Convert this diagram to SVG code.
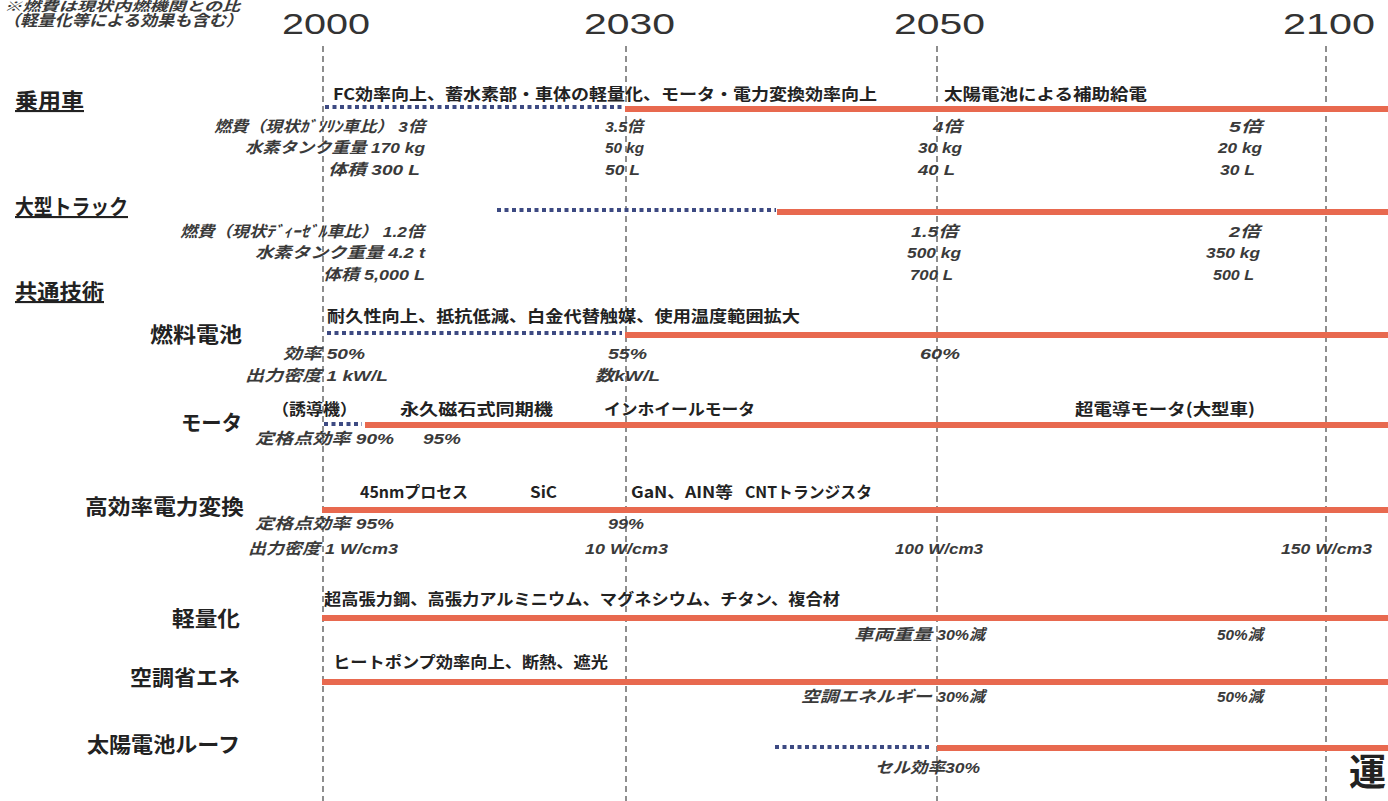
<svg xmlns="http://www.w3.org/2000/svg" width="1388" height="801" viewBox="0 0 1388 801">
<style>
.yr{font-family:"Liberation Sans",Arial,sans-serif;font-size:30px;fill:#333}
.cat{font-family:"Noto Sans CJK JP",sans-serif;font-size:21px;font-weight:bold;fill:#222;text-decoration:underline}
.lbl{font-family:"Noto Sans CJK JP",sans-serif;font-size:21px;font-weight:bold;fill:#222}
.desc{font-family:"Noto Sans CJK JP",sans-serif;font-size:16px;font-weight:bold;fill:#222}
.val{font-family:"Liberation Sans","Noto Sans CJK JP",sans-serif;font-size:15.5px;font-style:italic;font-weight:bold;fill:#3a3a3a}
.grid{stroke:#444;stroke-width:1.2;stroke-dasharray:6 4;fill:none}
.bar{stroke:#e8694f;stroke-width:6;fill:none}
.dot{stroke:#3d4a82;stroke-width:4;stroke-dasharray:4 3.5;fill:none}
</style>
<rect width="1388" height="801" fill="#fff"/>
<g id="header">
<text class="val" x="4" y="11" style="font-size:13px" textLength="236" lengthAdjust="spacingAndGlyphs">※燃費は現状内燃機関との比</text>
<text class="val" x="3" y="26" textLength="240" lengthAdjust="spacingAndGlyphs">（軽量化等による効果も含む）</text>
<text class="yr" x="282" y="34" textLength="88" lengthAdjust="spacingAndGlyphs">2000</text>
<text class="yr" x="584" y="34" textLength="91" lengthAdjust="spacingAndGlyphs">2030</text>
<text class="yr" x="894" y="34" textLength="91" lengthAdjust="spacingAndGlyphs">2050</text>
<text class="yr" x="1283" y="34" textLength="92" lengthAdjust="spacingAndGlyphs">2100</text>
</g>
<g id="connectors">
<line class="grid" x1="323" y1="46" x2="323" y2="801"/>
<line class="grid" x1="626" y1="46" x2="626" y2="801"/>
<line class="grid" x1="937" y1="46" x2="937" y2="801"/>
<line class="grid" x1="1326" y1="46" x2="1326" y2="801"/>
<line class="dot" x1="325" y1="107" x2="622" y2="107"/>
<line class="bar" x1="625" y1="109" x2="1388" y2="109"/>
<line class="dot" x1="497" y1="210" x2="776" y2="210"/>
<line class="bar" x1="777" y1="212" x2="1388" y2="212"/>
<line class="dot" x1="327" y1="333" x2="622" y2="333"/>
<line class="bar" x1="625" y1="335" x2="1388" y2="335"/>
<line class="dot" x1="324" y1="424" x2="362" y2="424"/>
<line class="bar" x1="365" y1="425" x2="1388" y2="425"/>
<line class="bar" x1="322" y1="510" x2="1388" y2="510"/>
<line class="bar" x1="322" y1="618" x2="1388" y2="618"/>
<line class="bar" x1="322" y1="682" x2="1388" y2="682"/>
<line class="dot" x1="775" y1="747" x2="932" y2="747"/>
<line class="bar" x1="937" y1="748" x2="1388" y2="748"/>
</g>
<g id="passenger">
<text class="cat" x="15" y="108" textLength="69" lengthAdjust="spacingAndGlyphs">乗用車</text>
<text class="desc" x="333" y="100" textLength="544" lengthAdjust="spacingAndGlyphs">FC効率向上、蓄水素部・車体の軽量化、モータ・電力変換効率向上</text>
<text class="desc" x="944" y="100" textLength="203" lengthAdjust="spacingAndGlyphs">太陽電池による補助給電</text>
<text class="val" x="214" y="132" textLength="211" lengthAdjust="spacingAndGlyphs">燃費（現状ｶﾞｿﾘﾝ車比） 3倍</text>
<text class="val" x="245" y="153" textLength="180" lengthAdjust="spacingAndGlyphs">水素タンク重量 170 kg</text>
<text class="val" x="328" y="175" textLength="92" lengthAdjust="spacingAndGlyphs">体積 300 L</text>
<text class="val" x="605" y="132" textLength="38" lengthAdjust="spacingAndGlyphs">3.5倍</text>
<text class="val" x="605" y="153" textLength="39" lengthAdjust="spacingAndGlyphs">50 kg</text>
<text class="val" x="605" y="175" textLength="35" lengthAdjust="spacingAndGlyphs">50 L</text>
<text class="val" x="933" y="132" textLength="29" lengthAdjust="spacingAndGlyphs">4倍</text>
<text class="val" x="918" y="153" textLength="44" lengthAdjust="spacingAndGlyphs">30 kg</text>
<text class="val" x="918" y="175" textLength="37" lengthAdjust="spacingAndGlyphs">40 L</text>
<text class="val" x="1229" y="132" textLength="33" lengthAdjust="spacingAndGlyphs">5倍</text>
<text class="val" x="1218" y="153" textLength="44" lengthAdjust="spacingAndGlyphs">20 kg</text>
<text class="val" x="1220" y="175" textLength="35" lengthAdjust="spacingAndGlyphs">30 L</text>
</g>
<g id="truck">
<text class="cat" x="15" y="214" textLength="113" lengthAdjust="spacingAndGlyphs">大型トラック</text>
<text class="val" x="180" y="237" textLength="244" lengthAdjust="spacingAndGlyphs">燃費（現状ﾃﾞｨｰｾﾞﾙ車比） 1.2倍</text>
<text class="val" x="255" y="258" textLength="170" lengthAdjust="spacingAndGlyphs">水素タンク重量 4.2  t</text>
<text class="val" x="323" y="280" textLength="102" lengthAdjust="spacingAndGlyphs">体積 5,000 L</text>
<text class="val" x="911" y="237" textLength="47" lengthAdjust="spacingAndGlyphs">1.5倍</text>
<text class="val" x="907" y="258" textLength="54" lengthAdjust="spacingAndGlyphs">500 kg</text>
<text class="val" x="910" y="280" textLength="43" lengthAdjust="spacingAndGlyphs">700 L</text>
<text class="val" x="1229" y="237" textLength="31" lengthAdjust="spacingAndGlyphs">2倍</text>
<text class="val" x="1206" y="258" textLength="54" lengthAdjust="spacingAndGlyphs">350 kg</text>
<text class="val" x="1213" y="280" textLength="41" lengthAdjust="spacingAndGlyphs">500 L</text>
</g>
<g id="common">
<text class="cat" x="15" y="299" textLength="89" lengthAdjust="spacingAndGlyphs">共通技術</text>
</g>
<g id="fuelcell">
<text class="lbl" x="150" y="342" textLength="92" lengthAdjust="spacingAndGlyphs">燃料電池</text>
<text class="desc" x="327" y="322" textLength="473" lengthAdjust="spacingAndGlyphs">耐久性向上、抵抗低減、白金代替触媒、使用温度範囲拡大</text>
<text class="val" x="283" y="359" textLength="82" lengthAdjust="spacingAndGlyphs">効率 50%</text>
<text class="val" x="245" y="381" textLength="143" lengthAdjust="spacingAndGlyphs">出力密度 1 kW/L</text>
<text class="val" x="608" y="359" textLength="39" lengthAdjust="spacingAndGlyphs">55%</text>
<text class="val" x="595" y="381" textLength="65" lengthAdjust="spacingAndGlyphs">数kW/L</text>
<text class="val" x="920" y="359" textLength="40" lengthAdjust="spacingAndGlyphs">60%</text>
</g>
<g id="motor">
<text class="lbl" x="181" y="430" textLength="61" lengthAdjust="spacingAndGlyphs">モータ</text>
<text class="desc" x="272" y="415" textLength="85" lengthAdjust="spacingAndGlyphs">（誘導機）</text>
<text class="desc" x="400" y="415" textLength="153" lengthAdjust="spacingAndGlyphs">永久磁石式同期機</text>
<text class="desc" x="604" y="415" textLength="151" lengthAdjust="spacingAndGlyphs">インホイールモータ</text>
<text class="desc" x="1075" y="415" textLength="180" lengthAdjust="spacingAndGlyphs">超電導モータ(大型車)</text>
<text class="val" x="255" y="444" textLength="139" lengthAdjust="spacingAndGlyphs">定格点効率 90%</text>
<text class="val" x="423" y="444" textLength="38" lengthAdjust="spacingAndGlyphs">95%</text>
</g>
<g id="power">
<text class="lbl" x="85" y="514" textLength="159" lengthAdjust="spacingAndGlyphs">高効率電力変換</text>
<text class="desc" x="360" y="498" textLength="108" lengthAdjust="spacingAndGlyphs">45nmプロセス</text>
<text class="desc" x="530" y="498" textLength="27" lengthAdjust="spacingAndGlyphs">SiC</text>
<text class="desc" x="631" y="498" textLength="102" lengthAdjust="spacingAndGlyphs">GaN、AIN等</text>
<text class="desc" x="745" y="498" textLength="127" lengthAdjust="spacingAndGlyphs">CNTトランジスタ</text>
<text class="val" x="255" y="529" textLength="139" lengthAdjust="spacingAndGlyphs">定格点効率 95%</text>
<text class="val" x="608" y="529" textLength="36" lengthAdjust="spacingAndGlyphs">99%</text>
<text class="val" x="248" y="554" textLength="150" lengthAdjust="spacingAndGlyphs">出力密度 1 W/cm3</text>
<text class="val" x="585" y="554" textLength="83" lengthAdjust="spacingAndGlyphs">10 W/cm3</text>
<text class="val" x="895" y="554" textLength="88" lengthAdjust="spacingAndGlyphs">100 W/cm3</text>
<text class="val" x="1281" y="554" textLength="91" lengthAdjust="spacingAndGlyphs">150 W/cm3</text>
</g>
<g id="lightweight">
<text class="lbl" x="172" y="626" textLength="68" lengthAdjust="spacingAndGlyphs">軽量化</text>
<text class="desc" x="324" y="605" textLength="516" lengthAdjust="spacingAndGlyphs">超高張力鋼、高張力アルミニウム、マグネシウム、チタン、複合材</text>
<text class="val" x="854" y="640" textLength="78" lengthAdjust="spacingAndGlyphs">車両重量</text>
<text class="val" x="937" y="640" textLength="48" lengthAdjust="spacingAndGlyphs">30%減</text>
<text class="val" x="1217" y="640" textLength="46" lengthAdjust="spacingAndGlyphs">50%減</text>
</g>
<g id="aircon">
<text class="lbl" x="130" y="685" textLength="110" lengthAdjust="spacingAndGlyphs">空調省エネ</text>
<text class="desc" x="333" y="668" textLength="275" lengthAdjust="spacingAndGlyphs">ヒートポンプ効率向上、断熱、遮光</text>
<text class="val" x="801" y="702" textLength="131" lengthAdjust="spacingAndGlyphs">空調エネルギー</text>
<text class="val" x="937" y="702" textLength="48" lengthAdjust="spacingAndGlyphs">30%減</text>
<text class="val" x="1217" y="702" textLength="46" lengthAdjust="spacingAndGlyphs">50%減</text>
</g>
<g id="solarroof">
<text class="lbl" x="87" y="752" textLength="153" lengthAdjust="spacingAndGlyphs">太陽電池ルーフ</text>
<text class="val" x="875" y="773" textLength="105" lengthAdjust="spacingAndGlyphs">セル効率30%</text>
<text x="1349" y="786" style="font-family:'Noto Sans CJK JP',sans-serif;font-size:37px;font-weight:bold;fill:#222">運</text>
</g>
</svg>
